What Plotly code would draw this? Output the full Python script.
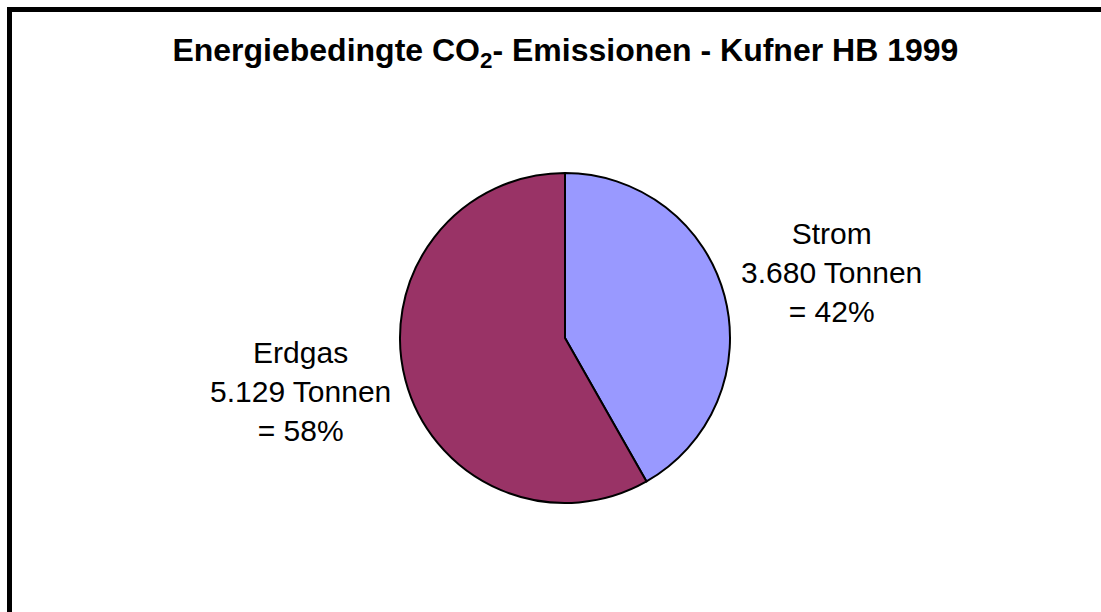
import plotly.graph_objects as go

# Daten
kategorien = ["Strom", "Erdgas"]
tonnen = [3680, 5129]
farben = ["#9999FF", "#993366"]
titel = "Energiebedingte CO<sub>2</sub>- Emissionen - Kufner HB 1999"

W, H = 1101, 612
cx, cy, r = 565, 338, 165

gesamt = sum(tonnen)

fig = go.Figure()

fig.add_trace(go.Pie(
    labels=kategorien,
    values=tonnen,
    sort=False,
    direction="clockwise",
    rotation=0,
    textinfo="none",
    hoverinfo="label+value+percent",
    marker=dict(colors=farben, line=dict(color="black", width=2)),
    domain=dict(x=[(cx - r) / W, (cx + r) / W], y=[(H - cy - r) / H, (H - cy + r) / H]),
    showlegend=False,
))

# Beschriftungen (Pixelposition der Textmitte)
label_pos = {"Strom": (831, 272), "Erdgas": (300, 392)}
for name, wert in zip(kategorien, tonnen):
    pct = round(100 * wert / gesamt)
    txt = f"{name}<br>{wert / 1000:.3f} Tonnen<br>= {pct}%"
    px, py = label_pos[name]
    fig.add_annotation(
        x=px / W, y=1 - py / H, xref="paper", yref="paper",
        text=txt, showarrow=False, align="center",
        xanchor="center", yanchor="middle",
        font=dict(family="Liberation Sans, Arial", size=30, color="black"),
    )

# Rahmen (rechts und unten abgeschnitten)
fig.add_shape(
    type="rect", xref="paper", yref="paper",
    x0=9.5 / W, x1=1.05, y0=-0.05, y1=1 - 9.5 / H,
    line=dict(color="black", width=5), fillcolor="rgba(0,0,0,0)",
)

fig.update_layout(
    title=dict(
        text=f"<b>{titel}</b>", x=0.5135, xanchor="center", y=1 - 50 / H, yanchor="middle",
        font=dict(family="Liberation Sans, Arial", size=32, color="black"),
    ),
    width=W, height=H,
    margin=dict(l=0, r=0, t=0, b=0),
    paper_bgcolor="white",
    plot_bgcolor="white",
)

fig.write_html(
    "out.html",
    config={"displayModeBar": False},
    post_script="document.body.style.margin='0';document.body.style.overflow='hidden';",
)
